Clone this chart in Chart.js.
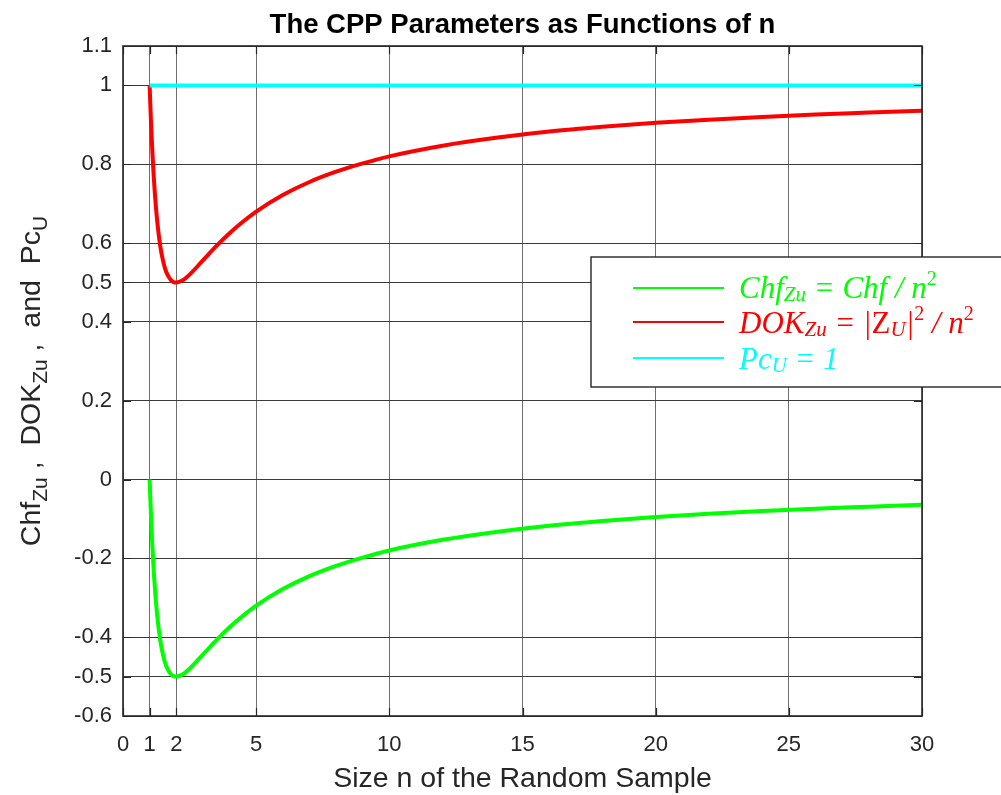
<!DOCTYPE html>
<html>
<head>
<meta charset="utf-8">
<script src="https://cdn.jsdelivr.net/npm/chart.js@4.4.1/dist/chart.umd.min.js"></script>
<style>
  html, body { margin: 0; padding: 0; background: #ffffff; }
  #wrap { width: 1001px; height: 795px; position: relative; }
</style>
</head>
<body>
<div id="wrap"><canvas id="cpp" width="1001" height="795"></canvas></div>
<script>
// Sample size n
const sampleSize = [1, 1.02, 1.05, 1.1, 1.15, 1.2, 1.3, 1.4, 1.5, 1.6, 1.7, 1.8, 1.9, 2,
  2.25, 2.5, 3, 3.5, 4, 4.5, 5, 6, 7, 8, 9, 10, 12, 14, 16, 18, 20, 22, 24, 26, 28, 30];

// Chf_Zu = Chf / n^2
const chfZu = [0, -0.038, -0.091, -0.165, -0.227, -0.278, -0.355, -0.408, -0.444, -0.469,
  -0.484, -0.494, -0.499, -0.5, -0.494, -0.48, -0.444, -0.408, -0.375, -0.346, -0.32,
  -0.278, -0.245, -0.219, -0.198, -0.18, -0.153, -0.133, -0.117, -0.105, -0.095, -0.087,
  -0.08, -0.074, -0.069, -0.064];

// DOK_Zu = |Z_U|^2 / n^2
const dokZu = [1, 0.962, 0.909, 0.835, 0.773, 0.722, 0.645, 0.592, 0.556, 0.531, 0.516,
  0.506, 0.501, 0.5, 0.506, 0.52, 0.556, 0.592, 0.625, 0.654, 0.68, 0.722, 0.755, 0.781,
  0.802, 0.82, 0.847, 0.867, 0.883, 0.895, 0.905, 0.913, 0.92, 0.926, 0.931, 0.936];

// Pc_U = 1
const pcSize = [1, 30];
const pcU = [1, 1];

// Axis ticks
const xTicks = [0, 1, 2, 5, 10, 15, 20, 25, 30];
const yTicks = [-0.6, -0.5, -0.4, -0.2, 0, 0.2, 0.4, 0.5, 0.6, 0.8, 1, 1.1];

const toPoints = (xs, ys) => xs.map((x, i) => ({ x: x, y: ys[i] }));

const SANS = "'Liberation Sans', Arial, sans-serif";
const SERIF = "'Liberation Serif', 'Times New Roman', serif";
const INK = '#262626';

function drawRuns(ctx, runs, x, y) {
  for (const r of runs) {
    ctx.font = r.font;
    if (r.color) ctx.fillStyle = r.color;
    ctx.fillText(r.t, x, y + (r.dy || 0));
    x += ctx.measureText(r.t).width;
  }
  return x;
}
function runsWidth(ctx, runs) {
  let w = 0;
  for (const r of runs) { ctx.font = r.font; w += ctx.measureText(r.t).width; }
  return w;
}

// Box, inward ticks, titles and the legend
const decorations = {
  id: 'decorations',
  afterDraw(chart) {
    const ctx = chart.ctx;
    const a = chart.chartArea;
    const xs = chart.scales.x, ys = chart.scales.y;
    ctx.save();

    // axes box
    ctx.strokeStyle = INK;
    ctx.lineWidth = 1.6;
    ctx.strokeRect(a.left, a.top, a.right - a.left, a.bottom - a.top);

    // inward tick marks on all four sides
    ctx.lineWidth = 1.2;
    const tl = 8;
    ctx.beginPath();
    for (const v of xTicks) {
      const px = Math.round(xs.getPixelForValue(v)) + 0.5;
      ctx.moveTo(px, a.bottom); ctx.lineTo(px, a.bottom - tl);
      ctx.moveTo(px, a.top); ctx.lineTo(px, a.top + tl);
    }
    for (const v of yTicks) {
      const py = Math.round(ys.getPixelForValue(v)) + 0.5;
      ctx.moveTo(a.left, py); ctx.lineTo(a.left + tl, py);
      ctx.moveTo(a.right, py); ctx.lineTo(a.right - tl, py);
    }
    ctx.stroke();

    // title
    ctx.fillStyle = '#000000';
    ctx.textAlign = 'center';
    ctx.textBaseline = 'alphabetic';
    ctx.font = 'bold 27.5px ' + SANS;
    ctx.fillText('The CPP Parameters as Functions of n', (a.left + a.right) / 2, 33);

    // x-axis title
    ctx.fillStyle = INK;
    ctx.font = '28.5px ' + SANS;
    ctx.fillText('Size n of the Random Sample', (a.left + a.right) / 2, 787);

    // y-axis title with subscripts
    ctx.textAlign = 'left';
    const big = '28.5px ' + SANS, sub = '21px ' + SANS;
    const yRuns = [
      { t: 'Chf', font: big }, { t: 'Zu', font: sub, dy: 7 },
      { t: ' ,  DOK', font: big }, { t: 'Zu', font: sub, dy: 7 },
      { t: ' ,  and  Pc', font: big }, { t: 'U', font: sub, dy: 7 }
    ];
    ctx.save();
    ctx.translate(40, (a.top + a.bottom) / 2);
    ctx.rotate(-Math.PI / 2);
    ctx.fillStyle = INK;
    drawRuns(ctx, yRuns, -runsWidth(ctx, yRuns) / 2, 0);
    ctx.restore();

    // legend
    ctx.fillStyle = '#ffffff';
    ctx.fillRect(591, 257, 420, 130);
    ctx.strokeStyle = INK;
    ctx.lineWidth = 1.4;
    ctx.strokeRect(591, 257, 420, 130);

    const it = 'italic 31px ' + SERIF, up = '31px ' + SERIF;
    const isub = 'italic 21px ' + SERIF, sup = '20px ' + SERIF;
    const entries = [
      { color: '#00ff00', ly: 288, by: 298, runs: [
        { t: 'Chf', font: it }, { t: 'Zu', font: isub, dy: 3 },
        { t: ' = Chf / n', font: it }, { t: '2', font: sup, dy: -13 } ] },
      { color: '#ff0000', ly: 322, by: 333, runs: [
        { t: 'DOK', font: it }, { t: 'Zu', font: isub, dy: 3 },
        { t: ' = |', font: it }, { t: 'Z', font: up }, { t: 'U', font: isub, dy: 3 },
        { t: '|', font: it }, { t: '2', font: sup, dy: -13 },
        { t: ' / n', font: it }, { t: '2', font: sup, dy: -13 } ] },
      { color: '#00ffff', ly: 358, by: 369, runs: [
        { t: 'Pc', font: it }, { t: 'U', font: isub, dy: 3 },
        { t: ' = 1', font: it } ] }
    ];
    for (const e of entries) {
      ctx.strokeStyle = e.color;
      ctx.lineWidth = 2;
      ctx.beginPath();
      ctx.moveTo(633, e.ly); ctx.lineTo(724, e.ly);
      ctx.stroke();
      ctx.fillStyle = e.color;
      drawRuns(ctx, e.runs, 739, e.by);
    }
    ctx.restore();
  }
};

new Chart(document.getElementById('cpp'), {
  type: 'line',
  data: {
    datasets: [
      { label: 'Chf_Zu', data: toPoints(sampleSize, chfZu), borderColor: '#00ff00',
        borderWidth: 4, pointRadius: 0, cubicInterpolationMode: 'monotone', order: 3 },
      { label: 'DOK_Zu', data: toPoints(sampleSize, dokZu), borderColor: '#ff0000',
        borderWidth: 4, pointRadius: 0, cubicInterpolationMode: 'monotone', order: 2 },
      { label: 'Pc_U', data: toPoints(pcSize, pcU), borderColor: '#00ffff',
        borderWidth: 4, pointRadius: 0, order: 1 }
    ]
  },
  options: {
    responsive: false,
    animation: false,
    devicePixelRatio: 1,
    layout: { padding: { left: 0, top: 46, right: 79, bottom: 0 } },
    plugins: { legend: { display: false }, tooltip: { enabled: false }, title: { display: false } },
    scales: {
      x: {
        type: 'linear', min: 0, max: 30,
        afterBuildTicks: s => { s.ticks = xTicks.map(v => ({ value: v })); },
        afterFit: s => { s.height = 79; },
        grid: { color: '#6e6e6e', lineWidth: 1, drawTicks: false },
        border: { display: false },
        ticks: { autoSkip: false, maxRotation: 0, padding: 16, color: INK,
          font: { family: SANS, size: 22 }, callback: v => String(v) }
      },
      y: {
        type: 'linear', min: -0.6, max: 1.1,
        afterBuildTicks: s => { s.ticks = yTicks.map(v => ({ value: v })); },
        afterFit: s => { s.width = 123; },
        grid: { color: '#3a3a3a', lineWidth: 1, drawTicks: false },
        border: { display: false },
        ticks: { autoSkip: false, padding: 11, color: INK,
          font: { family: SANS, size: 22 }, callback: v => String(Math.round(v * 10) / 10) }
      }
    }
  },
  plugins: [decorations]
});
</script>
</body>
</html>
